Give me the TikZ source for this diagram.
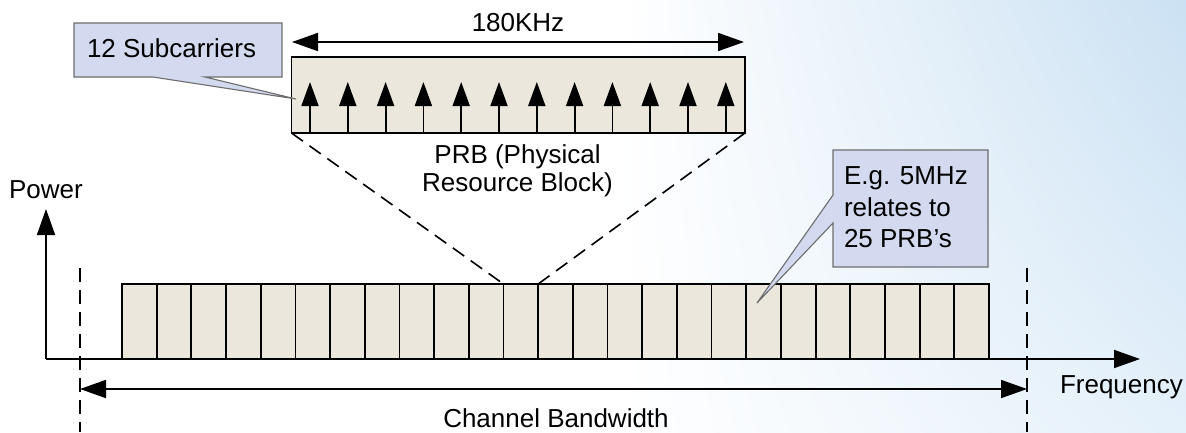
\documentclass[tikz,border=0pt]{standalone}
\usepackage{fontspec}
\setmainfont{Liberation Sans}
\usetikzlibrary{arrows.meta,shadings}
\definecolor{beige}{RGB}{235,231,220}
\definecolor{callfill}{RGB}{211,217,238}
\definecolor{callline}{RGB}{110,110,110}
\definecolor{bgblueA}{RGB}{203,225,243}
\definecolor{bgblueB}{RGB}{228,240,250}
\begin{document}
\begin{tikzpicture}[x=1pt,y=-1pt,
  txt/.style={font=\fontsize{26}{31}\selectfont, inner sep=0pt, outer sep=0pt},
  main/.style={line width=1.8pt, draw=black},
  bigtip/.style={-{Triangle[length=26pt,width=18pt]}},
  bothtips/.style={{Triangle[length=26pt,width=18pt]}-{Triangle[length=26pt,width=18pt]}},
  subtip/.style={-{Triangle[length=24pt,width=17pt]}},
  dashln/.style={line width=1.6pt, dash pattern=on 14pt off 8pt},
  bar/.style={main, fill=beige, minimum width=34.68pt, minimum height=75pt, inner sep=0pt, outer sep=0pt},
  prbbox/.style={main, fill=beige, minimum width=453.5pt, minimum height=76pt, inner sep=0pt, outer sep=0pt},
  callshape/.style={fill=callfill, draw=callline, line width=1.1pt, line join=miter}
]
\useasboundingbox (0,0) rectangle (1186,432);
\fill[white] (0,0) rectangle (1186,432);
\shade[upper left=white, lower left=white, upper right=bgblueA, lower right=bgblueB] (620,0) rectangle (1186,432);

% axes
\coordinate (O) at (46,359);
\coordinate (xend) at (1140,359);
\coordinate (yend) at (46,209);
\draw[main, bigtip] (O) -- (xend);
\draw[main, bigtip] (O) -- (yend);
\node[txt, anchor=base] (power) at (46,198) {Power};
\node[txt, anchor=base west] (freq) at (1060,393) {Frequency};

% PRB bars
\foreach \i in {1,...,25}
  \node[bar] (b\i) at ({122+34.68*(\i-0.5)},321.5) {};

% channel bandwidth
\coordinate (dlt) at (80,268);
\coordinate (dlb) at (80,432);
\coordinate (drt) at (1027,268);
\coordinate (drb) at (1027,432);
\draw[dashln] (dlt) -- (dlb);
\draw[dashln] (drt) -- (drb);
\coordinate (cbl) at (80,389);
\coordinate (cbr) at (1027,389);
\draw[main, bothtips] (cbl) -- (cbr);
\node[txt, anchor=base] (cbw) at (556,427) {Channel Bandwidth};

% PRB detail box
\node[prbbox] (prb) at (518.25,95) {};
\draw[line width=2.6pt] (prb.south west) -- (prb.south east);
\foreach \k in {0,...,11} {
  \coordinate (s\k) at ({310+37.8*\k},133);
  \coordinate (t\k) at ({310+37.8*\k},82);
  \draw[main, subtip] (s\k) -- (t\k);
}
\coordinate (kl) at (292,42);
\coordinate (kr) at (744,42);
\draw[main, bothtips] (kl) -- (kr);
\node[txt, anchor=base] (khz) at (518,31) {180KHz};
\draw[dashln] (prb.south west) -- (b12.north west);
\draw[dashln] (prb.south east) -- (b12.north east);
\node[txt, align=center, font=\fontsize{26}{28.4}\selectfont] (prbtxt) at (517.5,171) {PRB (Physical\\Resource Block)};

% callouts
\draw[callshape] (74,23) -- (282,23) -- (282,77) -- (205,77) -- (296,99) -- (153,77) -- (74,77) -- cycle;
\node[txt, anchor=base west] (subc) at (87,57.3) {12 Subcarriers};
\draw[callshape] (833,150) -- (988,150) -- (988,267) -- (833,267) -- (833,223) -- (757,303) -- (833,195) -- cycle;
\node[txt, align=left, anchor=west, font=\fontsize{26}{31.7}\selectfont] (eg) at (844,207.4) {E.g. 5MHz\\relates to\\25 PRB’s};
\end{tikzpicture}
\end{document}
